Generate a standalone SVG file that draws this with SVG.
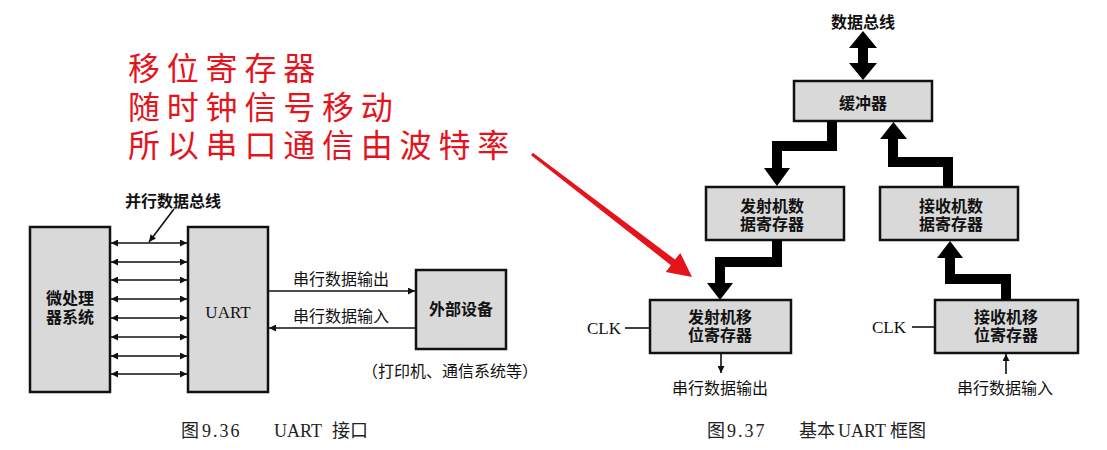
<svg xmlns="http://www.w3.org/2000/svg" width="1107" height="450" viewBox="0 0 1107 450">
  <style>
    .box { fill: #d9d9d9; stroke: #111; stroke-width: 2.5; }
    .lbl { font-family: "Noto Sans CJK SC", "Noto Sans", sans-serif; font-size: 16px; fill: #111; dominant-baseline: central; text-anchor: middle; }
    .bold { font-weight: 700; }
    .ser { font-family: "Liberation Serif", "Noto Sans CJK SC", serif; font-size: 17px; fill: #111; dominant-baseline: central; }
    .cap { font-family: "Liberation Serif", "Noto Sans CJK SC", serif; font-size: 18px; fill: #222; dominant-baseline: central; }
    .thin { stroke: #111; stroke-width: 1.6; fill: none; }
    .fat { stroke: #000; stroke-width: 10; fill: none; stroke-linejoin: miter; }
    .red { font-family: "Noto Sans CJK SC", sans-serif; font-size: 32px; fill: #e5141c; letter-spacing: 6.8px; dominant-baseline: central; }
  </style>
  <defs>
    <marker id="ah" viewBox="0 0 10 10" refX="10" refY="5" markerUnits="userSpaceOnUse" markerWidth="9" markerHeight="7" orient="auto-start-reverse">
      <path d="M0,0 L10,5 L0,10 z" fill="#111"/>
    </marker>
  </defs>
  <rect width="1107" height="450" fill="#ffffff"/>

  <!-- Left figure nodes -->
  <g id="mpu">
    <rect class="box" x="30" y="227" width="80" height="165"/>
    <text class="lbl bold" x="70" y="297"><tspan x="70">微处理</tspan><tspan x="70" dy="19">器系统</tspan></text>
  </g>
  <g id="uart">
    <rect class="box" x="188" y="227" width="80" height="165"/>
    <text class="ser" x="228" y="312" text-anchor="middle" font-size="18">UART</text>
  </g>
  <g id="ext">
    <rect class="box" x="416" y="270" width="90" height="79"/>
    <text class="lbl bold" x="461" y="308">外部设备</text>
    <text class="lbl" x="450" y="370">（打印机、通信系统等）</text>
  </g>

  <!-- Right figure nodes -->
  <g id="buffer">
    <rect class="box" x="794" y="81" width="138" height="40"/>
    <text class="lbl bold" x="863" y="102">缓冲器</text>
  </g>
  <g id="txdata">
    <rect class="box" x="706" y="187" width="138" height="53"/>
    <text class="lbl bold" x="772" y="205"><tspan x="772">发射机数</tspan><tspan x="772" dy="18">据寄存器</tspan></text>
  </g>
  <g id="rxdata">
    <rect class="box" x="880" y="187" width="138" height="53"/>
    <text class="lbl bold" x="951" y="205"><tspan x="951">接收机数</tspan><tspan x="951" dy="18">据寄存器</tspan></text>
  </g>
  <g id="txshift">
    <rect class="box" x="650" y="300" width="141" height="53"/>
    <text class="lbl bold" x="720" y="316"><tspan x="720">发射机移</tspan><tspan x="720" dy="18">位寄存器</tspan></text>
  </g>
  <g id="rxshift">
    <rect class="box" x="935" y="300" width="143" height="53"/>
    <text class="lbl bold" x="1006" y="316"><tspan x="1006">接收机移</tspan><tspan x="1006" dy="18">位寄存器</tspan></text>
  </g>

  <!-- Connectors -->
  <g id="connectors">
    <!-- parallel bus -->
    <line class="thin" x1="111" y1="243" x2="187" y2="243" marker-start="url(#ah)" marker-end="url(#ah)"/>
    <line class="thin" x1="111" y1="262" x2="187" y2="262" marker-start="url(#ah)" marker-end="url(#ah)"/>
    <line class="thin" x1="111" y1="280" x2="187" y2="280" marker-start="url(#ah)" marker-end="url(#ah)"/>
    <line class="thin" x1="111" y1="299" x2="187" y2="299" marker-start="url(#ah)" marker-end="url(#ah)"/>
    <line class="thin" x1="111" y1="318" x2="187" y2="318" marker-start="url(#ah)" marker-end="url(#ah)"/>
    <line class="thin" x1="111" y1="337" x2="187" y2="337" marker-start="url(#ah)" marker-end="url(#ah)"/>
    <line class="thin" x1="111" y1="356" x2="187" y2="356" marker-start="url(#ah)" marker-end="url(#ah)"/>
    <line class="thin" x1="111" y1="374" x2="187" y2="374" marker-start="url(#ah)" marker-end="url(#ah)"/>
    <line class="thin" x1="174" y1="209" x2="149" y2="242" marker-end="url(#ah)"/>
    <text class="lbl bold" x="173" y="200">并行数据总线</text>

    <!-- serial to/from external -->
    <line class="thin" x1="269" y1="291" x2="415" y2="291" marker-end="url(#ah)"/>
    <text class="lbl" x="341" y="278">串行数据输出</text>
    <line class="thin" x1="415" y1="328" x2="269" y2="328" marker-end="url(#ah)"/>
    <text class="lbl" x="341" y="315">串行数据输入</text>

    <!-- data bus double fat arrow -->
    <text class="lbl bold" x="863" y="21">数据总线</text>
    <line class="fat" x1="863" y1="47" x2="863" y2="64"/>
    <polygon points="849,48 877,48 863,31" fill="#000"/>
    <polygon points="849,63 877,63 863,80" fill="#000"/>

    <!-- buffer -> tx data -->
    <polyline class="fat" points="832,121 832,146 777,146 777,169"/>
    <polygon points="764,168 790,168 777,186" fill="#000"/>
    <!-- rx data -> buffer -->
    <polyline class="fat" points="948,187 948,162 893,162 893,138"/>
    <polygon points="880,139 907,139 893.5,122" fill="#000"/>
    <!-- tx data -> tx shift -->
    <polyline class="fat" points="777,240 777,262 720,262 720,284"/>
    <polygon points="707,283 733,283 720,300" fill="#000"/>
    <!-- rx shift -> rx data -->
    <polyline class="fat" points="1006,300 1006,279 950,279 950,257"/>
    <polygon points="937,258 963,258 950,241" fill="#000"/>

    <!-- CLK -->
    <text class="ser" x="587" y="328" font-size="18">CLK</text>
    <line class="thin" x1="625" y1="328" x2="650" y2="328"/>
    <text class="ser" x="872" y="327" font-size="18">CLK</text>
    <line class="thin" x1="912" y1="327" x2="935" y2="327"/>

    <!-- serial out/in -->
    <line class="thin" x1="721" y1="354" x2="721" y2="373" marker-end="url(#ah)"/>
    <text class="lbl" x="720" y="387">串行数据输出</text>
    <line class="thin" x1="1006" y1="374" x2="1006" y2="354" marker-end="url(#ah)"/>
    <text class="lbl" x="1005" y="387">串行数据输入</text>

    <!-- red annotation arrow -->
    <polygon points="531.1,155.2 670.9,265.2 665.7,271.9 692,277 680.3,252.9 675.1,259.6 532.9,152.8" fill="#e5141c"/>
  </g>

  <!-- red annotation text -->
  <text class="red" x="128" y="66">移位寄存器</text>
  <text class="red" x="128" y="105">随时钟信号移动</text>
  <text class="red" x="128" y="143">所以串口通信由波特率</text>

  <!-- captions -->
  <text class="cap" y="431"><tspan x="181">图</tspan><tspan x="202" letter-spacing="2">9.36</tspan><tspan x="274">UART</tspan><tspan x="332">接口</tspan></text>
  <text class="cap" y="431"><tspan x="707">图</tspan><tspan x="727" letter-spacing="2">9.37</tspan><tspan x="799">基本</tspan><tspan x="838">UART</tspan><tspan x="890">框图</tspan></text>
</svg>
